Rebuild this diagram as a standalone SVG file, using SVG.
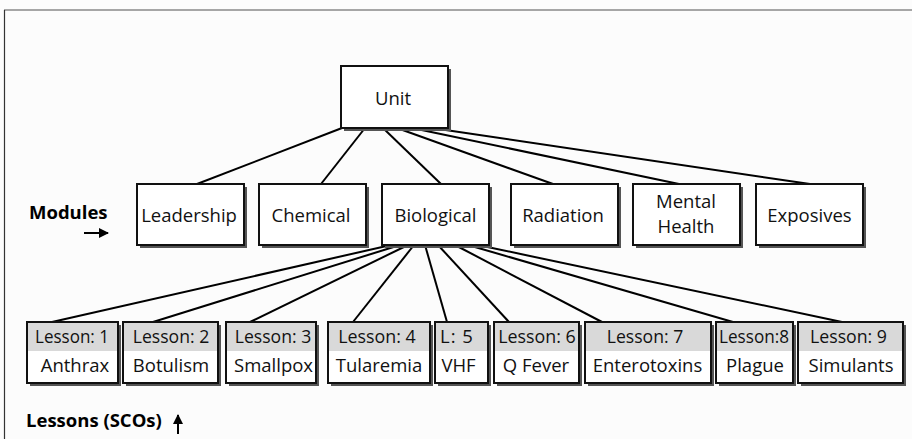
<svg xmlns="http://www.w3.org/2000/svg" width="912" height="439" viewBox="0 0 912 439">
  <defs>
    <filter id="soft" x="-10%" y="-10%" width="130%" height="130%">
      <feGaussianBlur stdDeviation="0.7"/>
    </filter>
    <marker id="head" viewBox="0 0 10 10" refX="9" refY="5" markerWidth="5" markerHeight="5" orient="auto-start-reverse" markerUnits="strokeWidth">
      <path d="M0,0 L10,5 L0,10 Z" fill="#000"/>
    </marker>
  </defs>
  <style>
    text { font-family: "Open Sans", "Liberation Sans", sans-serif; font-size: 18.5px; fill: #111; text-anchor: middle; }
    .label { font-weight: bold; text-anchor: start; fill: #000; }
    .box { fill: #fff; stroke: #111; stroke-width: 2; }
    .shadow { fill: #555; filter: url(#soft); }
    .band { fill: #d9d9d9; }
    .link { stroke: #000; stroke-width: 2; fill: none; }
    .pointer { stroke: #000; stroke-width: 2; fill: none; marker-end: url(#head); }
  </style>

  <!-- page -->
  <rect x="0" y="0" width="912" height="439" fill="#fcfcfc"/>
  <line x1="4" y1="10" x2="912" y2="10" stroke="#8a8a8a" stroke-width="1.5"/>
  <line x1="4.5" y1="10" x2="4.5" y2="439" stroke="#333" stroke-width="1.2"/>

  <!-- connectors -->
  <g id="connectors">
    <line class="link" x1="342" y1="128" x2="197" y2="184"/>
    <line class="link" x1="365" y1="128" x2="321" y2="184"/>
    <line class="link" x1="383" y1="128" x2="441" y2="184"/>
    <line class="link" x1="397" y1="128" x2="553" y2="184"/>
    <line class="link" x1="412" y1="128" x2="679" y2="184"/>
    <line class="link" x1="432" y1="128" x2="810" y2="184"/>

    <line class="link" x1="391" y1="245" x2="52" y2="322"/>
    <line class="link" x1="400" y1="245" x2="153" y2="322"/>
    <line class="link" x1="408" y1="245" x2="250" y2="322"/>
    <line class="link" x1="414" y1="245" x2="353" y2="322"/>
    <line class="link" x1="425" y1="245" x2="447" y2="322"/>
    <line class="link" x1="438" y1="245" x2="509" y2="322"/>
    <line class="link" x1="455" y1="245" x2="602" y2="322"/>
    <line class="link" x1="468" y1="245" x2="733" y2="322"/>
    <line class="link" x1="478" y1="245" x2="842" y2="322"/>
  </g>

  <!-- root -->
  <g id="unit">
    <rect class="shadow" x="344" y="69" width="107" height="62"/>
    <rect class="box" x="341" y="66" width="107" height="62"/>
    <text x="393" y="105">Unit</text>
  </g>

  <!-- modules -->
  <g id="module-leadership">
    <rect class="shadow" x="140" y="187" width="107" height="61"/>
    <rect class="box" x="137" y="184" width="107" height="61"/>
    <text x="189" y="222">Leadership</text>
  </g>
  <g id="module-chemical">
    <rect class="shadow" x="262" y="187" width="107" height="61"/>
    <rect class="box" x="259" y="184" width="107" height="61"/>
    <text x="311" y="222">Chemical</text>
  </g>
  <g id="module-biological">
    <rect class="shadow" x="385" y="187" width="107" height="61"/>
    <rect class="box" x="382" y="184" width="107" height="61"/>
    <text x="435.5" y="222">Biological</text>
  </g>
  <g id="module-radiation">
    <rect class="shadow" x="514" y="187" width="107" height="61"/>
    <rect class="box" x="511" y="184" width="107" height="61"/>
    <text x="563" y="222">Radiation</text>
  </g>
  <g id="module-mental-health">
    <rect class="shadow" x="636" y="187" width="107" height="61"/>
    <rect class="box" x="633" y="184" width="107" height="61"/>
    <text x="686" y="207.5">Mental</text>
    <text x="686" y="232.5">Health</text>
  </g>
  <g id="module-exposives">
    <rect class="shadow" x="759" y="187" width="107" height="61"/>
    <rect class="box" x="756" y="184" width="107" height="61"/>
    <text x="809.5" y="222">Exposives</text>
  </g>

  <!-- lessons -->
  <g id="lesson-1">
    <rect class="shadow" x="30" y="325" width="91" height="61"/>
    <rect class="box" x="27" y="322" width="91" height="61"/>
    <rect class="band" x="28" y="323" width="89" height="28"/>
    <text x="72" y="343" textLength="74" lengthAdjust="spacingAndGlyphs">Lesson: 1</text>
    <text x="75" y="372">Anthrax</text>
  </g>
  <g id="lesson-2">
    <rect class="shadow" x="126" y="325" width="95" height="61"/>
    <rect class="box" x="123" y="322" width="95" height="61"/>
    <rect class="band" x="124" y="323" width="93" height="28"/>
    <text x="171" y="343" textLength="76.5" lengthAdjust="spacingAndGlyphs">Lesson: 2</text>
    <text x="171" y="372">Botulism</text>
  </g>
  <g id="lesson-3">
    <rect class="shadow" x="229" y="325" width="90" height="61"/>
    <rect class="box" x="226" y="322" width="90" height="61"/>
    <rect class="band" x="227" y="323" width="88" height="28"/>
    <text x="273" y="343" textLength="76.5" lengthAdjust="spacingAndGlyphs">Lesson: 3</text>
    <text x="273.5" y="372">Smallpox</text>
  </g>
  <g id="lesson-4">
    <rect class="shadow" x="331" y="325" width="102" height="61"/>
    <rect class="box" x="328" y="322" width="102" height="61"/>
    <rect class="band" x="329" y="323" width="100" height="28"/>
    <text x="377" y="343" textLength="77.5" lengthAdjust="spacingAndGlyphs">Lesson: 4</text>
    <text x="379" y="372">Tularemia</text>
  </g>
  <g id="lesson-5">
    <rect class="shadow" x="438" y="325" width="53" height="61"/>
    <rect class="box" x="435" y="322" width="53" height="61"/>
    <rect class="band" x="436" y="323" width="51" height="28"/>
    <text x="457" y="343" letter-spacing="1">L: 5</text>
    <text x="458.5" y="372">VHF</text>
  </g>
  <g id="lesson-6">
    <rect class="shadow" x="497" y="325" width="85" height="61"/>
    <rect class="box" x="494" y="322" width="85" height="61"/>
    <rect class="band" x="495" y="323" width="83" height="28"/>
    <text x="537" y="343" textLength="77.5" lengthAdjust="spacingAndGlyphs">Lesson: 6</text>
    <text x="536" y="372">Q Fever</text>
  </g>
  <g id="lesson-7">
    <rect class="shadow" x="588" y="325" width="126" height="61"/>
    <rect class="box" x="585" y="322" width="126" height="61"/>
    <rect class="band" x="586" y="323" width="124" height="28"/>
    <text x="645" y="343" textLength="76.5" lengthAdjust="spacingAndGlyphs">Lesson: 7</text>
    <text x="647.5" y="372">Enterotoxins</text>
  </g>
  <g id="lesson-8">
    <rect class="shadow" x="719" y="325" width="77" height="61"/>
    <rect class="box" x="716" y="322" width="77" height="61"/>
    <rect class="band" x="717" y="323" width="75" height="28"/>
    <text x="754" y="343" textLength="70" lengthAdjust="spacingAndGlyphs">Lesson:8</text>
    <text x="755" y="372">Plague</text>
  </g>
  <g id="lesson-9">
    <rect class="shadow" x="801" y="325" width="105" height="61"/>
    <rect class="box" x="798" y="322" width="105" height="61"/>
    <rect class="band" x="799" y="323" width="103" height="28"/>
    <text x="848.5" y="343" textLength="77" lengthAdjust="spacingAndGlyphs">Lesson: 9</text>
    <text x="851" y="372">Simulants</text>
  </g>

  <!-- level captions -->
  <g id="caption-modules">
    <text class="label" x="29" y="219">Modules</text>
    <line class="pointer" x1="84" y1="233" x2="108" y2="233"/>
  </g>
  <g id="caption-lessons">
    <text class="label" x="26" y="427">Lessons (SCOs)</text>
    <line class="pointer" x1="178" y1="434" x2="178" y2="415"/>
  </g>
</svg>
